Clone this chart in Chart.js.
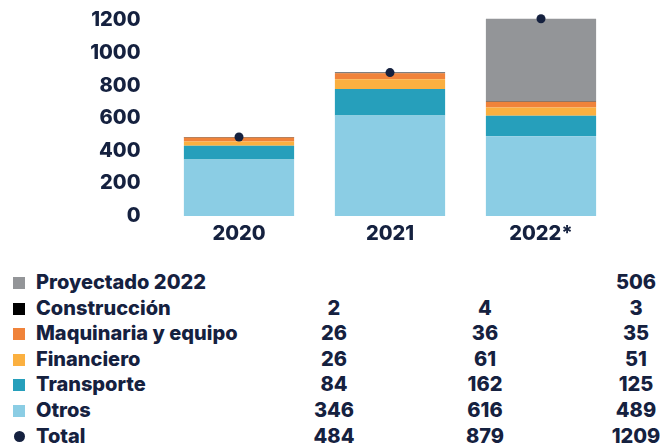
<!DOCTYPE html>
<html>
<head>
<meta charset="utf-8">
<script src="https://cdn.jsdelivr.net/npm/chart.js@4/dist/chart.umd.min.js"></script>
<style>
  body { margin: 0; background: #fff; }
  #wrap { position: relative; width: 660px; height: 448px; overflow: hidden; font-family: Inter, "Noto Sans", sans-serif; color: #15213f; }
  #chartBox { position: absolute; left: 0; top: -18px; width: 660px; height: 269px; }
  #table { position: absolute; left: 0; top: 270px; width: 660px; }
  .row { position: relative; height: 25.6px; line-height: 25.6px; font-size: 20px; font-weight: 800; }
  .mark { position: absolute; left: 13px; top: 7px; width: 12px; height: 12px; }
  .dot { border-radius: 50%; left: 14px; width: 11px; height: 11px; top: 7px; }
  .lbl { position: absolute; left: 36px; }
  .val { position: absolute; width: 80px; text-align: center; }
</style>
</head>
<body>
<div id="wrap">
  <div id="chartBox"><canvas id="c"></canvas></div>
  <div id="table"></div>
</div>
<script>
// categories
const years = ["2020", "2021", "2022*"];

// series values, bottom to top of the stack
const otros        = [346, 616, 489];
const transporte   = [84, 162, 125];
const financiero   = [26, 61, 51];
const maquinaria   = [26, 36, 35];
const construccion = [2, 4, 3];
const proyectado   = [null, null, 506];
const total        = [484, 879, 1209];

const yTicks = [0, 200, 400, 600, 800, 1000, 1200];

const navy = "#15213f";
const tickFont = { family: "Inter", size: 20, weight: "800" };

const series = [
    { label: "Otros", data: otros, color: "#8bcde4" },
    { label: "Transporte", data: transporte, color: "#269fbb" },
    { label: "Financiero", data: financiero, color: "#fbb040" },
    { label: "Maquinaria y equipo", data: maquinaria, color: "#f0833a" },
    { label: "Construcción", data: construccion, color: "#000000" },
    { label: "Proyectado 2022", data: proyectado, color: "#939598" }
];

const datasets = series.map(s => ({
    type: "bar",
    label: s.label,
    data: s.data,
    backgroundColor: s.color,
    stack: "a",
    barPercentage: 0.73,
    categoryPercentage: 1,
    borderWidth: 0,
    order: 2
}));
datasets.push({
    type: "line",
    label: "Total",
    data: total,
    stack: "total",
    showLine: false,
    pointRadius: 4.5,
    pointHoverRadius: 4.5,
    pointBackgroundColor: navy,
    pointBorderWidth: 0,
    clip: false,
    order: 1
});

new Chart(document.getElementById("c"), {
    data: { labels: years, datasets: datasets },
    options: {
        responsive: true,
        maintainAspectRatio: false,
        animation: false,
        layout: { padding: { top: 0, right: 43.5, left: 0, bottom: 0 } },
        plugins: { legend: { display: false }, tooltip: { enabled: false } },
        scales: {
            x: {
                stacked: true,
                grid: { display: false, drawTicks: false },
                border: { display: false },
                ticks: { color: navy, padding: 6, font: tickFont },
                afterFit: s => { s.height = 34; }
            },
            y: {
                stacked: true,
                min: 0,
                max: 1220,
                afterBuildTicks: s => { s.ticks = yTicks.map(v => ({ value: v })); },
                grid: { display: false, drawTicks: false },
                border: { display: false },
                ticks: { color: navy, padding: 23, font: tickFont, callback: v => String(v) },
                afterFit: s => { s.width = 163.5; }
            }
        }
    }
});

// data table under the chart
const cols = [334, 485, 636];
const rows = series.slice().reverse().map(s => ({ label: s.label, data: s.data, color: s.color, dot: false }));
rows.push({ label: "Total", data: total, color: navy, dot: true });

const table = document.getElementById("table");
rows.forEach(r => {
    const row = document.createElement("div");
    row.className = "row";
    const m = document.createElement("div");
    m.className = r.dot ? "mark dot" : "mark";
    m.style.background = r.color;
    row.appendChild(m);
    const l = document.createElement("div");
    l.className = "lbl";
    l.textContent = r.label;
    row.appendChild(l);
    r.data.forEach((v, i) => {
        if (v === null) return;
        const c = document.createElement("div");
        c.className = "val";
        c.style.left = (cols[i] - 40) + "px";
        c.textContent = v;
        row.appendChild(c);
    });
    table.appendChild(row);
});
</script>
</body>
</html>
